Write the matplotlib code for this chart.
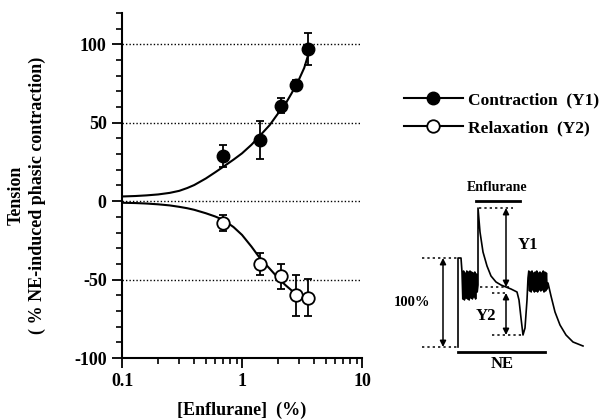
import numpy as np
import matplotlib.pyplot as plt
from matplotlib.lines import Line2D
from matplotlib.ticker import FixedLocator, NullFormatter

plt.rcParams['font.family'] = ['Liberation Serif', 'DejaVu Serif']
plt.rcParams['font.weight'] = 'bold'

# measured points
enflurane = [0.7, 1.4, 2.1, 2.8, 3.55]
contraction = [29, 39, 61, 74, 97]
contraction_err = [7, 12, 5, 3, 10]
relaxation = [-14, -40, -48, -60, -61.5]
relaxation_err = [5, 7, 8, 13, 12]

# fitted curves
fit_x = [0.1, 0.13, 0.16, 0.2, 0.25, 0.3, 0.35, 0.4, 0.5, 0.6, 0.7, 0.85, 1.0, 1.2, 1.4, 1.7, 2.0,
         2.3, 2.6, 3.0, 3.3, 3.65]
fit_up = [3, 3.3, 3.7, 4.3, 5.3, 6.6, 8.4, 10.3, 14.5, 18.5, 22, 26.5, 30.5, 36, 41.5, 48.5, 56,
          62, 69, 78, 85, 96]
fit_down = [-1, -1.2, -1.5, -2, -2.7, -3.6, -4.5, -5.5, -7.7, -9.8, -12, -16.5, -21.5, -29, -36, -43, -49,
            -53.5, -57, -60, -61.5, -63]

grid_levels = [100, 50, 0, -50]
yticks = [-100, -50, 0, 50, 100]
xticks = [0.1, 1, 10]
xticklabels = ['0.1', '1', '10']

# schematic trace for the inset (drawn in pixel-like units)
trace_x = [458, 458, 461, 462, 462.8, 463.6, 464.4, 465.2, 466, 466.8, 467.6, 468.4, 469.2, 470, 470.8,
           471.6, 472.4, 473.2, 474, 474.8, 475.6, 476.4, 477.2,
           478, 478, 480, 483, 487, 491, 496, 501, 506, 511, 517, 519, 521, 523, 525, 527,
           528, 528.8, 529.6, 530.4, 531.2, 532, 532.8, 533.6, 534.4, 535.2, 536, 536.8, 537.6, 538.4,
           539.2, 540, 540.8, 541.6, 542.4, 543.2, 544, 544.8, 545.6, 546.4, 547.2,
           548, 551, 555, 560, 566, 573, 583]
trace_y = [347, 258, 258, 272, 299, 271, 300, 273, 298, 271, 299, 272, 300, 271, 298,
           272, 299, 273, 297, 272, 299, 274, 292,
           285, 208, 232, 252, 266, 276, 282, 285, 287, 289, 292, 300, 318, 335, 328, 300,
           278, 271, 291, 272, 292, 271, 290, 273, 292, 272, 291, 271, 292, 273,
           290, 272, 291, 273, 290, 271, 292, 272, 291, 273, 289,
           283, 296, 312, 325, 335, 342, 346]


fig = plt.figure(figsize=(6.03, 4.19), dpi=100)
ax = fig.add_axes([122 / 603, 61 / 419, 240 / 603, 345 / 419])

ax.plot(fit_x, fit_up, color='black', lw=1.5)
ax.plot(fit_x, fit_down, color='black', lw=1.5)
for lvl in grid_levels:
    ax.plot([0.1, 10], [lvl, lvl], color='black', lw=1, ls=(0, (1, 1.5)))

ax.errorbar(enflurane, contraction, yerr=contraction_err, fmt='o', color='black',
            ms=9, capsize=3, elinewidth=1.3, capthick=1.3)
ax.errorbar(enflurane, relaxation, yerr=relaxation_err, fmt='o', color='black', mfc='white',
            mec='black', mew=1.3, ms=9, capsize=3, elinewidth=1.3, capthick=1.3)

ax.set_xscale('log')
ax.set_xlim(0.1, 10)
ax.set_ylim(-100, 120)
ax.spines['top'].set_visible(False)
ax.spines['right'].set_visible(False)
ax.spines['left'].set_linewidth(1.5)
ax.spines['bottom'].set_linewidth(1.5)
ax.set_xticks(xticks)
ax.set_xticklabels(xticklabels)
ax.xaxis.set_minor_formatter(NullFormatter())
ax.set_yticks(yticks)
ax.set_yticklabels([str(v) for v in yticks])
ax.yaxis.set_minor_locator(FixedLocator(np.arange(-90, 121, 10)))
ax.tick_params(axis='both', which='major', direction='out', length=7, width=1.3, labelsize=13, pad=4)
ax.tick_params(axis='both', which='minor', direction='out', length=4, width=1.2)
for t in ax.get_xticklabels() + ax.get_yticklabels():
    t.set_fontweight('bold')

ax.set_xlabel('[Enflurane]  (%)', fontsize=13, fontweight='bold', labelpad=8)
fig.text(16 / 603, 224 / 419, 'Tension', rotation=90, ha='center', va='center',
         fontsize=13, fontweight='bold')
fig.text(37 / 603, 224 / 419, '( % NE-induced phasic contraction)', rotation=90,
         ha='center', va='center', fontsize=13, fontweight='bold')

handles = [Line2D([], [], color='black', lw=1.5, marker='o', ms=9),
           Line2D([], [], color='black', lw=1.5, marker='o', ms=9, mfc='white', mew=1.3)]
labels = ['Contraction  (Y1)', 'Relaxation  (Y2)']
fig.legend(handles, labels, loc='center left', bbox_to_anchor=(388 / 603, 1 - 114 / 419),
           frameon=False, handlelength=3.4, handletextpad=0.3, labelspacing=0.7,
           prop={'family': 'Liberation Serif', 'weight': 'bold', 'size': 12.5})

# inset schematic
ins = fig.add_axes([410 / 603, 49 / 419, 193 / 603, 200 / 419])
ins.set_xlim(410, 603)
ins.set_ylim(370, 170)
ins.axis('off')
ins.plot(trace_x, trace_y, color='black', lw=1.2)
dot = dict(color='black', lw=1.1, ls=(0, (1.5, 2)))
ins.plot([422, 457], [258, 258], **dot)
ins.plot([422, 457], [347, 347], **dot)
ins.plot([479, 513], [208, 208], **dot)
ins.plot([480, 512], [287, 287], **dot)
ins.plot([492, 505], [293, 293], **dot)
ins.plot([492, 522], [335, 335], **dot)
arrow = dict(arrowstyle='<|-|>', color='black', lw=1.1, mutation_scale=9, shrinkA=0, shrinkB=0)
ins.annotate('', xy=(443, 258), xytext=(443, 347), arrowprops=arrow)
ins.annotate('', xy=(506, 208), xytext=(506, 287), arrowprops=arrow)
ins.annotate('', xy=(506, 293), xytext=(506, 335), arrowprops=arrow)
ins.plot([476, 520], [201, 201], color='black', lw=2)
ins.plot([458, 545], [352, 352], color='black', lw=2)
ins.text(497, 187, 'Enflurane', ha='center', va='center', fontsize=10, fontweight='bold')
ins.text(528, 245, 'Y1', ha='center', va='center', fontsize=12, fontweight='bold')
ins.text(486, 316, 'Y2', ha='center', va='center', fontsize=12, fontweight='bold')
ins.text(412, 302, '100%', ha='center', va='center', fontsize=10.5, fontweight='bold')
ins.text(502, 364, 'NE', ha='center', va='center', fontsize=12, fontweight='bold')

fig.savefig('out.png', dpi=100)
